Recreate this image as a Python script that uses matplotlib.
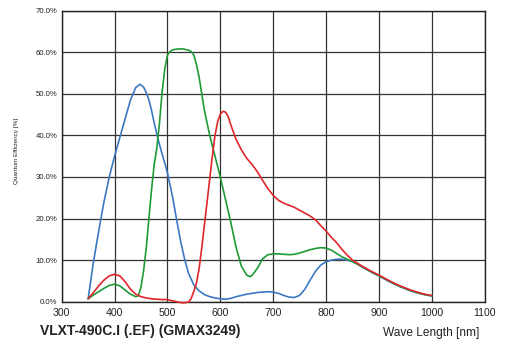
import matplotlib
matplotlib.use("Agg")
import matplotlib.pyplot as plt

plt.rcParams['font.family'] = ['Liberation Sans', 'DejaVu Sans']

blue_x = [350, 360, 370, 380, 390, 400, 410, 420, 430, 440, 448, 455, 460, 465, 470, 475,
          480, 485, 490, 495, 500, 505, 510, 517, 525, 533, 540, 550, 560, 570, 580, 590,
          600, 610, 620, 630, 640, 650, 660, 670, 680, 690, 700, 710, 720, 730, 740, 750,
          760, 770, 780, 790, 800, 810, 820, 830, 840, 850, 860, 870, 880, 890, 900, 910,
          920, 930, 940, 950, 960, 970, 980, 990, 1000]
blue_y = [0.7, 9.5, 17, 24, 30, 35, 39.5, 44, 48.5, 51.5, 52.3, 51.6, 50.3, 48.5, 46, 43,
          40.3, 37.8, 35.5, 33.3, 31, 28, 25, 20, 14.5, 10, 6.8, 4, 2.6, 1.7, 1.2, 0.9,
          0.7, 0.6, 0.8, 1.2, 1.5, 1.8, 2.0, 2.2, 2.3, 2.4, 2.3, 2.0, 1.5, 1.1, 1.0, 1.5,
          3.0, 5.2, 7.3, 8.8, 9.6, 10.0, 10.2, 10.2, 10.0, 9.7, 9.0, 8.2, 7.5, 6.8, 6.2, 5.5,
          4.8, 4.2, 3.6, 3.1, 2.6, 2.2, 1.9, 1.6, 1.4]

green_x = [350, 360, 370, 380, 390, 400, 410, 420, 430, 440, 445, 450, 455, 460, 465, 470,
           475, 480, 485, 490, 495, 500, 505, 510, 520, 530, 540, 545, 550, 555, 560, 565,
           570, 575, 580, 590, 600, 610, 620, 630, 640, 650, 656, 660, 670, 680, 690, 700,
           710, 720, 730, 740, 750, 760, 770, 780, 790, 800, 810, 820, 830, 840, 850, 860,
           870, 880, 890, 900, 910, 920, 930, 940, 950, 960, 970, 980, 990, 1000]
green_y = [0.7, 1.6, 2.4, 3.2, 3.9, 4.2, 3.8, 2.8, 1.8, 1.2, 1.4, 3.5, 7.5, 13, 20, 27,
           33, 37, 43, 50.5, 56, 59.3, 60.2, 60.6, 60.8, 60.8, 60.5, 60.2, 59.3, 57, 54, 50,
           46, 43, 40, 35, 30, 24.5, 19, 13, 8.5, 6.4, 6.0, 6.3, 8, 10.3, 11.3, 11.5,
           11.5, 11.4, 11.3, 11.4, 11.7, 12.1, 12.5, 12.8, 13.0, 12.9, 12.4, 11.6, 10.8, 10.2, 9.6, 9.0,
           8.3, 7.6, 6.9, 6.3, 5.6, 4.9, 4.3, 3.7, 3.2, 2.7, 2.3, 1.9, 1.6, 1.4]

red_x = [350, 360, 370, 380, 390, 400, 410, 420, 430, 440, 450, 460, 470, 480, 490, 500,
         510, 520, 530, 540, 545, 550, 555, 560, 565, 570, 575, 580, 585, 590, 595, 600,
         605, 610, 615, 620, 630, 640, 650, 660, 670, 680, 690, 700, 710, 720, 730, 740,
         750, 760, 770, 780, 790, 800, 810, 820, 830, 840, 850, 860, 870, 880, 890, 900,
         910, 920, 930, 940, 950, 960, 970, 980, 990, 1000]
red_y = [0.7, 2.2, 3.8, 5.2, 6.2, 6.6, 6.2, 4.8, 3.0, 1.8, 1.2, 0.9, 0.7, 0.6, 0.5, 0.5,
         0.2, -0.1, -0.3, -0.1, 0.8, 2.5, 4.5, 8, 13, 18.5, 24, 29.5, 35, 40, 43.3, 45.1,
         45.8, 45.6, 44.5, 42.5, 39, 36.5, 34.5, 33, 31.3, 29.2, 27.2, 25.6, 24.4, 23.7, 23.2, 22.7,
         22.0, 21.3, 20.6, 19.7, 18.3, 17, 15.5, 14.2, 12.6, 11.2, 10.0, 9.2, 8.4, 7.7, 7.0, 6.4,
         5.7, 5.0, 4.4, 3.8, 3.3, 2.8, 2.4, 2.0, 1.7, 1.5]

x_ticks = [300, 400, 500, 600, 700, 800, 900, 1000, 1100]
y_ticks = [0, 10, 20, 30, 40, 50, 60, 70]

fig = plt.figure(figsize=(5.12, 3.57), dpi=100)
ax = fig.add_axes([0.1205, 0.155, 0.826, 0.815])

style = dict(lw=1.2, solid_joinstyle='round', solid_capstyle='round')
ax.plot(blue_x, blue_y, color='#3b78c3', zorder=3, **style)
ax.plot(green_x, green_y, color='#1e9a36', zorder=4, **style)
ax.plot(red_x, red_y, color='#e0262a', zorder=5, clip_on=False, **style)

ax.set_xlim(300, 1100)
ax.set_ylim(0, 70)
ax.set_xticks(x_ticks)
ax.set_yticks(y_ticks)
ax.set_xticklabels([str(v) for v in x_ticks], fontsize=7.6, color='#222222')
ax.set_yticklabels([f"{v:.1f}%" for v in y_ticks], fontsize=5.6, color='#222222')
ax.tick_params(length=0)
ax.tick_params(axis='x', pad=4.5)
ax.tick_params(axis='y', pad=3)
ax.grid(True, color='#333333', lw=0.9)
ax.set_axisbelow(True)
for s in ax.spines.values():
    s.set_color('#222222')
    s.set_linewidth(1.0)

fig.text(0.032, 0.577, 'Quantum Efficiency [%]', rotation=90, fontsize=4.6,
         ha='center', va='center', color='#222222')
fig.text(0.2734, 0.074, 'VLXT-490C.I (.EF) (GMAX3249)', fontsize=10,
         fontweight='bold', ha='center', va='center', color='#222222')
fig.text(0.843, 0.067, 'Wave Length [nm]', fontsize=8.6,
         ha='center', va='center', color='#222222')

fig.savefig('out.png', dpi=100)
